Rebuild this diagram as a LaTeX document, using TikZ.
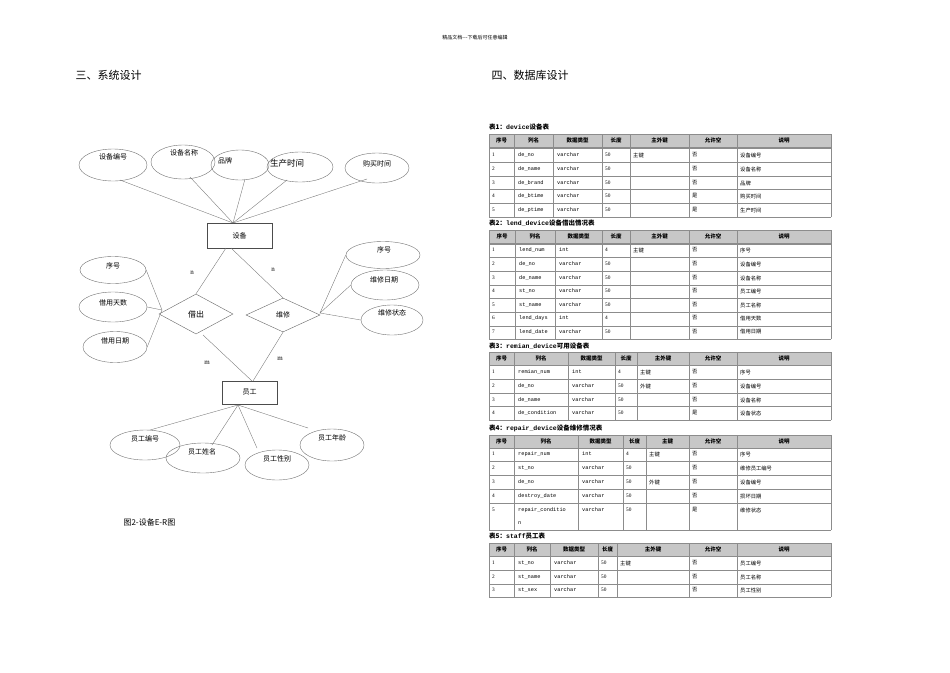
\documentclass[tikz,border=0pt]{standalone}
\usepackage{fontspec}
\setmainfont{Liberation Serif}
\setmonofont{Liberation Mono}
\newfontfamily\cjk{Noto Sans CJK SC}
\usetikzlibrary{shapes.geometric}
\tikzset{
 ent/.style={draw=black!70,line width=0.4pt,minimum width=65pt,minimum height=25pt,font=\cjk\fontsize{7}{8}\selectfont},
 attr/.style={draw=black!55,ellipse,line width=0.4pt,font=\cjk\fontsize{7}{8}\selectfont},
 rel/.style={draw=black!60,diamond,line width=0.4pt,font=\cjk\fontsize{8}{9}\selectfont},
 ln/.style={draw=black!55,line width=0.35pt},
 tl/.style={draw=black!45,line width=0.4pt},
 hdr/.style={fill=black!22},
 cell/.style={anchor=west,inner sep=0pt,font=\fontsize{5.3}{6}\selectfont},
 hcell/.style={inner sep=0pt,font=\cjk\bfseries\fontsize{5.5}{6}\selectfont},
 ttl/.style={anchor=west,inner sep=0pt,font=\bfseries\fontsize{6.5}{7}\selectfont},
}
\newcommand\tabgrid[5]{%
 \pgfmathsetmacro\xl{#1[0]}\pgfmathsetmacro\xr{#1[7]}
 \fill[hdr] (\xl,#2) rectangle (\xr,#2+13.5);
 \foreach \yy in {#2,#2+13.5,#4,#3}{\draw[tl] (\xl,\yy)--(\xr,\yy);}
 \foreach \k in {0,...,7}{\pgfmathsetmacro\xx{#1[\k]}\draw[tl](\xx,#2)--(\xx,#3);}
 \foreach \t [count=\k from 0] in {#5}{\pgfmathsetmacro\xa{#1[\k]}\pgfmathsetmacro\xb{#1[\k+1]}
   \node[hcell] at ({(\xa+\xb)/2},#2+6.75) {\t};}
}
\newcommand\tabrows[2]{%
 \foreach \yy/\a/\b/\c/\d/\e/\f/\g in {#2}{%
  \pgfmathsetmacro\xa{#1[0]+3}\pgfmathsetmacro\xb{#1[1]+4}\pgfmathsetmacro\xc{#1[2]+4}
  \pgfmathsetmacro\xd{#1[3]+3}\pgfmathsetmacro\xe{#1[4]+3}\pgfmathsetmacro\xf{#1[5]+3}\pgfmathsetmacro\xg{#1[6]+3}
  \node[cell] at (\xa,\yy) {\a};
  \node[cell,font=\ttfamily\fontsize{5.3}{6}\selectfont] at (\xb,\yy) {\b};
  \node[cell,font=\ttfamily\fontsize{5.3}{6}\selectfont] at (\xc,\yy) {\c};
  \node[cell] at (\xd,\yy) {\d};
  \node[cell,font=\cjk\fontsize{5.3}{6}\selectfont] at (\xe,\yy) {\e};
  \node[cell,font=\cjk\fontsize{5.3}{6}\selectfont] at (\xf,\yy) {\f};
  \node[cell,font=\cjk\fontsize{5.3}{6}\selectfont] at (\xg,\yy) {\g};
 }}
\begin{document}
\begin{tikzpicture}[x=1pt,y=-1pt]
\useasboundingbox[fill=white] (0,0) rectangle (950,672);
\node[font=\cjk\fontsize{5}{6}\selectfont] (hd) at (475,38) {精品文档---下载后可任意编辑};
\node[anchor=west,font=\cjk\fontsize{11}{12}\selectfont] (t1) at (72,75) {三、系统设计};
\node[anchor=west,font=\cjk\fontsize{11}{12}\selectfont] (t2) at (488,75) {四、数据库设计};
% ER diagram
\node[ent] (dev) at (239.5,235.5) {设备};
\node[ent,minimum width=55pt,minimum height=23pt] (emp) at (249.5,392.5) {员工};
\node[rel,minimum width=74pt,minimum height=40pt,inner sep=0pt] (lend) at (196,314) {借出};
\node[rel,minimum width=74pt,minimum height=34pt,inner sep=0pt,font=\cjk\fontsize{7}{8}\selectfont] (rep) at (283,315) {维修};
\node[attr,minimum width=68pt,minimum height=32pt] (a1) at (113,165) {};
\node[font=\cjk\fontsize{7}{8}\selectfont] at (113,157) {设备编号};
\node[attr,minimum width=64pt,minimum height=34pt] (a2) at (183,162) {};
\node[font=\cjk\fontsize{7}{8}\selectfont] at (184,153) {设备名称};
\node[attr,minimum width=58pt,minimum height=30pt] (a3) at (240,165) {};
\node[font=\cjk\fontsize{7}{8}\selectfont] at (225,161) {品牌};
\node[attr,minimum width=66pt,minimum height=30pt] (a4) at (300,167) {};
\node[font=\cjk\fontsize{8.5}{9}\selectfont] at (287,163) {生产时间};
\node[attr,minimum width=64pt,minimum height=30pt] (a5) at (377,168) {};
\node[font=\cjk\fontsize{7}{8}\selectfont] at (377,164) {购买时间};
\coordinate (dtop) at (233,223);
\draw[ln] (120,180) -- (dtop); \draw[ln] (190,177) -- (dtop); \draw[ln] (245,179) -- (dtop);
\draw[ln] (287,180) -- (dtop); \draw[ln] (367,179) -- (dtop);
\draw[ln] (226,248) -- (lend.north); \draw[ln] (231,248) -- (rep.north);
\draw[ln] (203,335) -- (252,381); \draw[ln] (rep.south) -- (253,381);
\node[font=\fontsize{7}{8}\selectfont] (n1) at (192,273) {n};
\node[font=\fontsize{7}{8}\selectfont] (n2) at (273,270) {n};
\node[font=\fontsize{7}{8}\selectfont] (m1) at (207,363) {m};
\node[font=\fontsize{7}{8}\selectfont] (m2) at (280,359) {m};
\node[attr,minimum width=66pt,minimum height=27pt] (l1) at (113,270) {};
\node[font=\cjk\fontsize{7}{8}\selectfont] at (113,266) {序号};
\node[attr,minimum width=68pt,minimum height=30pt] (l2) at (113,307) {};
\node[font=\cjk\fontsize{7}{8}\selectfont] at (113,303) {借用天数};
\node[attr,minimum width=64pt,minimum height=31pt] (l3) at (115,347) {};
\node[font=\cjk\fontsize{7}{8}\selectfont] at (115,341) {借用日期};
\coordinate (lj) at (162,310);
\draw[ln] (l1.east) -- (lj); \draw[ln] (l2.east) -- (lj); \draw[ln] (l3.east) -- (lj);
\node[attr,minimum width=74pt,minimum height=27pt] (r1) at (383,255) {};
\node[font=\cjk\fontsize{7}{8}\selectfont] at (384,250) {序号};
\node[attr,minimum width=68pt,minimum height=30pt] (r2) at (385,285) {};
\node[font=\cjk\fontsize{7}{8}\selectfont] at (384,280) {维修日期};
\node[attr,minimum width=62pt,minimum height=30pt] (r3) at (392,320) {};
\node[font=\cjk\fontsize{7}{8}\selectfont] at (392,313) {维修状态};
\coordinate (rj) at (320,313);
\draw[ln] (r1.west) -- (rj); \draw[ln] (r2.west) -- (rj); \draw[ln] (r3.west) -- (rj);
\node[attr,minimum width=70pt,minimum height=30pt] (b1) at (145,445) {};
\node[font=\cjk\fontsize{7}{8}\selectfont] at (145,439) {员工编号};
\node[attr,minimum width=74pt,minimum height=30pt] (b2) at (203,458) {};
\node[font=\cjk\fontsize{7}{8}\selectfont] at (202,452) {员工姓名};
\node[attr,minimum width=64pt,minimum height=30pt] (b3) at (277,465) {};
\node[font=\cjk\fontsize{7}{8}\selectfont] at (277,459) {员工性别};
\node[attr,minimum width=64pt,minimum height=32pt] (b4) at (332,445) {};
\node[font=\cjk\fontsize{7}{8}\selectfont] at (332,438) {员工年龄};
\coordinate (ej) at (238,405); \coordinate (e4) at (308,428);
\draw[ln] (ej) -- (150,430); \draw[ln] (ej) -- (212,445); \draw[ln] (ej) -- (257,448); \draw[ln] (ej) -- (e4);
\node[anchor=west,font=\cjk\fontsize{8}{9}\selectfont] (cap) at (120,522) {图2-设备E-R图};
% tables
\node[ttl] at (489,127) {{\cjk 表1：}{\ttfamily device}{\cjk 设备表}};
\tabgrid{{489,514,553,602,630,689,737,831}}{134}{217}{148,162,176,189,203}{序号,列名,数据类型,长度,主外键,允许空,说明}
\tabrows{{489,514,553,602,630,689,737,831}}{155/1/de\_no/varchar/50/主键/否/设备编号,169/2/de\_name/varchar/50/ /否/设备名称,183/3/de\_brand/varchar/50/ /否/品牌,196/4/de\_btime/varchar/50/ /是/购买时间,210/5/de\_ptime/varchar/50/ /是/生产时间}
\node[ttl] at (489,223) {{\cjk 表2：}{\ttfamily lend\_device}{\cjk 设备借出情况表}};
\tabgrid{{489,515,555,602,630,689,737,831}}{230}{339}{244,257,271,285,298,312,326}{序号,列名,数据类型,长度,主外键,允许空,说明}
\tabrows{{489,515,555,602,630,689,737,831}}{250/1/lend\_num/int/4/主键/否/序号,264/2/de\_no/varchar/50/ /否/设备编号,278/3/de\_name/varchar/50/ /否/设备名称,291/4/st\_no/varchar/50/ /否/员工编号,305/5/st\_name/varchar/50/ /否/员工名称,318/6/lend\_days/int/4/ /否/借用天数,332/7/lend\_date/varchar/50/ /否/借用日期}
\node[ttl] at (489,346) {{\cjk 表3：}{\ttfamily remian\_device}{\cjk 可用设备表}};
\tabgrid{{489,514,568,615,637,689,737,831}}{352}{420}{365,379,393,406}{序号,列名,数据类型,长度,主外键,允许空,说明}
\tabrows{{489,514,568,615,637,689,737,831}}{372/1/remian\_num/int/4/主键/否/序号,386/2/de\_no/varchar/50/外键/否/设备编号,400/3/de\_name/varchar/50/ /否/设备名称,413/4/de\_condition/varchar/50/ /是/设备状态}
\node[ttl] at (489,428) {{\cjk 表4：}{\ttfamily repair\_device}{\cjk 设备维修情况表}};
\tabgrid{{489,514,578,623,646,689,737,831}}{435}{530}{448,461,475,489,503}{序号,列名,数据类型,长度,主键,允许空,说明}
\tabrows{{489,514,578,623,646,689,737,831}}{454/1/repair\_num/int/4/主键/否/序号,468/2/st\_no/varchar/50/ /否/维修员工编号,482/3/de\_no/varchar/50/外键/否/设备编号,496/4/destroy\_date/varchar/50/ /否/损坏日期,510/5/repair\_conditio/varchar/50/ /是/维修状态}
\node[cell,font=\ttfamily\fontsize{5.3}{6}\selectfont] at (518,523) {n};
\node[ttl] at (489,536) {{\cjk 表5：}{\ttfamily staff}{\cjk 员工表}};
\tabgrid{{489,514,550,598,617,689,737,831}}{543}{597}{556,570,584}{序号,列名,数据类型,长度,主外键,允许空,说明}
\tabrows{{489,514,550,598,617,689,737,831}}{563/1/st\_no/varchar/50/主键/否/员工编号,577/2/st\_name/varchar/50/ /否/员工名称,590/3/st\_sex/varchar/50/ /否/员工性别}
\end{tikzpicture}
\end{document}
